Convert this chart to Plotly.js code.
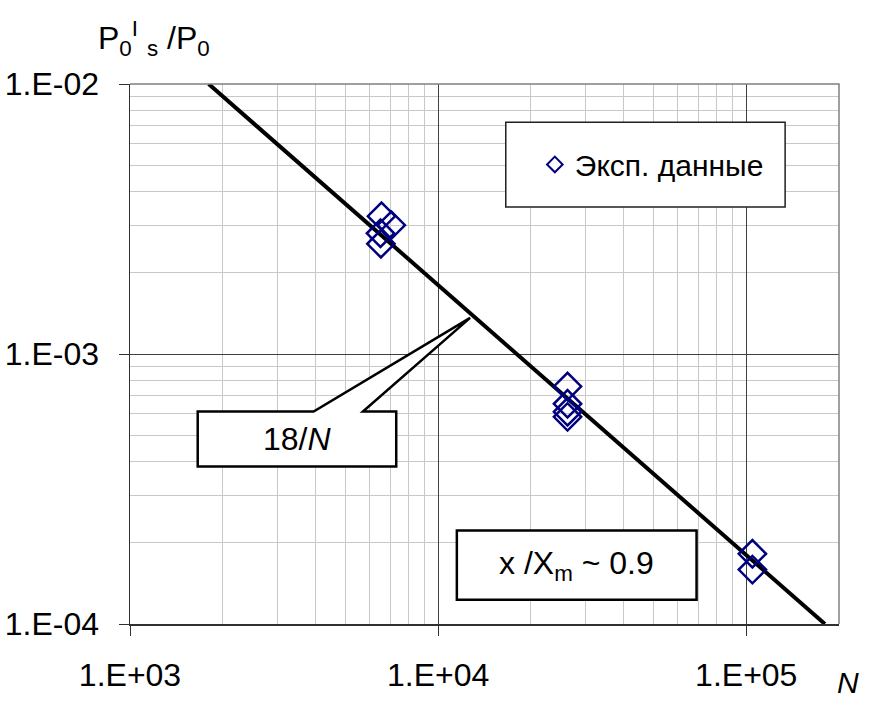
<!DOCTYPE html>
<html>
<head>
<meta charset="utf-8">
<script src="https://cdn.plot.ly/plotly-3.0.1.min.js"></script>
<style>html,body{margin:0;padding:0;background:#fff;}#chart{width:871px;height:704px;}</style>
</head>
<body>
<div id="chart"></div>
<script>
// Experimental data (N, P0'_s/P0)
var expN = [6550, 7050, 6500, 6520, 26300, 26300, 26300, 26300, 104700, 104700];
var expP = [3.24e-3, 3.0e-3, 2.80e-3, 2.56e-3, 7.58e-4, 6.54e-4, 6.11e-4, 5.85e-4, 1.82e-4, 1.59e-4];
// Fit line 18/N
var lineN = [1800, 180000];
var lineP = [1e-2, 1e-4];
// Tick labels
var xTickVals = [1e3, 1e4, 1e5];
var xTickText = ['1.E+03', '1.E+04', '1.E+05'];
var yTickVals = [1e-4, 1e-3, 1e-2];
var yTickText = ['1.E-04', '1.E-03', '1.E-02'];
var legendName = 'Эксп. данные';

var FONT = 'Arial, "Liberation Sans", sans-serif';

var traces = [
  {x: lineN, y: lineP, mode: 'lines', line: {color: '#000000', width: 4}, showlegend: false, hoverinfo: 'skip'},
  {x: expN, y: expP, mode: 'markers', name: legendName,
   marker: {symbol: 'diamond-open', size: 21, color: '#000080', line: {color: '#000080', width: 2.5}}}
];

var axisCommon = {
  type: 'log', showline: true, linecolor: '#303030', linewidth: 1.5,
  ticks: 'outside', ticklen: 10, tickcolor: '#303030', tickwidth: 1,
  showgrid: true, gridcolor: '#404040', gridwidth: 1, zeroline: false,
  tickfont: {family: FONT, size: 32, color: '#000'},
  tickmode: 'array',
  minor: {dtick: 'D1', showgrid: true, gridcolor: '#c8c8c8', gridwidth: 1, ticks: ''}
};

var layout = {
  width: 871, height: 704,
  margin: {l: 130, r: 32, t: 84, b: 80},
  paper_bgcolor: '#ffffff', plot_bgcolor: '#ffffff',
  font: {family: FONT, color: '#000'},
  xaxis: Object.assign({}, axisCommon, {range: [3, Math.log10(2e5)], tickvals: xTickVals, ticktext: xTickText, ticklabelstandoff: 12}),
  yaxis: Object.assign({}, axisCommon, {range: [-4, -2], tickvals: yTickVals, ticktext: yTickText, ticklabelstandoff: 13}),
  showlegend: true,
  legend: {x: 0.571, y: 0.851, xanchor: 'left', yanchor: 'middle', bgcolor: 'rgba(0,0,0,0)', borderwidth: 0,
           font: {family: FONT, size: 30, color: '#000'}, itemsizing: 'constant'},
  shapes: [
    // top/right border of plot area
    {type: 'path', xref: 'paper', yref: 'paper', path: 'M0,1 L1,1 L1,0', line: {color: '#808080', width: 1.5}, layer: 'above'},
    // legend box
    {type: 'rect', xref: 'paper', yref: 'paper', x0: 0.530, x1: 0.924, y0: 0.772, y1: 0.929,
     fillcolor: '#ffffff', line: {color: '#202020', width: 1.5}, layer: 'above'},
    // callout 18/N
    {type: 'path', xref: 'paper', yref: 'paper',
     path: 'M0.0955,0.3935 L0.2590,0.3935 L0.4797,0.5669 L0.3285,0.3935 L0.3755,0.3935 L0.3755,0.2917 L0.0955,0.2917 Z',
     fillcolor: '#ffffff', line: {color: '#000000', width: 2.5}, layer: 'above'},
    // x/Xm box
    {type: 'rect', xref: 'paper', yref: 'paper', x0: 0.4610, x1: 0.7991, y0: 0.0450, y1: 0.1732,
     fillcolor: '#ffffff', line: {color: '#000000', width: 2.5}, layer: 'above'}
  ],
  annotations: [
    {xref: 'paper', yref: 'paper', x: 0.2354, y: 0.3426, xanchor: 'center', yanchor: 'middle', showarrow: false,
     text: '18/<i>N</i>', font: {family: FONT, size: 32, color: '#000'}},
    {xref: 'paper', yref: 'paper', x: 0.630, y: 0.109, xanchor: 'center', yanchor: 'middle', showarrow: false,
     text: 'x /X<sub>m</sub> ~ 0.9', font: {family: FONT, size: 32, color: '#000'}},
    {xref: 'paper', yref: 'paper', x: -0.0486, y: 1.085, xanchor: 'left', yanchor: 'middle', showarrow: false,
     text: 'P<sub>0</sub><sup>I</sup> <sub>s</sub> /P<sub>0</sub>', font: {family: FONT, size: 32, color: '#000'}},
    {xref: 'paper', yref: 'paper', x: 1.012, y: -0.108, xanchor: 'center', yanchor: 'middle', showarrow: false,
     text: '<i>N</i>', font: {family: FONT, size: 30, color: '#000'}}
  ]
};

Plotly.newPlot('chart', traces, layout, {displayModeBar: false, staticPlot: true});
</script>
</body>
</html>
